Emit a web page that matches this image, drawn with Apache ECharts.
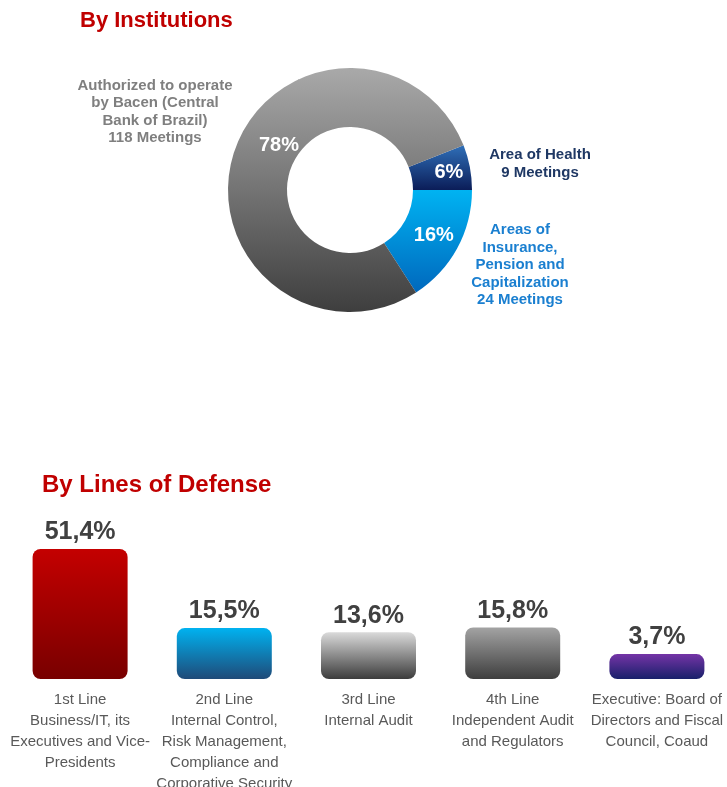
<!DOCTYPE html>
<html>
<head>
<meta charset="utf-8">
<script src="https://cdn.jsdelivr.net/npm/echarts@6/dist/echarts.min.js"></script>
<style>
  html, body { margin: 0; padding: 0; background: #fff; }
  #chartBox { width: 727px; height: 787px; }
</style>
</head>
<body>
<div id="chartBox"></div>
<script>
// donut: by institutions (order chosen so slices start at top-right)
const instNames = ["Area of Health", "Areas of\nInsurance,\nPension and\nCapitalization", "Authorized to operate\nby Bacen (Central\nBank of Brazil)"];
const instMeetings = [9, 24, 118];

// bars: by lines of defense
const lineCategories = [
  "1st Line\nBusiness/IT, its\nExecutives and Vice-\nPresidents",
  "2nd Line\nInternal Control,\nRisk Management,\nCompliance and\nCorporative Security",
  "3rd Line\nInternal Audit",
  "4th Line\nIndependent Audit\nand Regulators",
  "Executive: Board of\nDirectors and Fiscal\nCouncil, Coaud"
];
const lineShares = [51.4, 15.5, 13.6, 15.8, 3.7];

const FONT = "'Liberation Sans', Arial, sans-serif";

function grad(top, bottom) {
  return new echarts.graphic.LinearGradient(0, 0, 0, 1, [
    { offset: 0, color: top },
    { offset: 1, color: bottom },
  ]);
}

const sliceColors = [
  grad("#2f6fb8", "#0b1d58"),
  grad("#00b3f2", "#0068bd"),
  grad("#a9a9a9", "#3e3e3e"),
];
const sliceLabelColors = ["#1f3864", "#1a7fd0", "#7f7f7f"];
// where the category texts sit beside the donut
const outerLabelPos = [[540, 164], [520, 265], [155, 112]];

const barColors = [
  grad("#c40000", "#780000"),
  grad("#00b2f0", "#1f4a78"),
  grad("#dadada", "#3c3c3c"),
  grad("#a3a3a3", "#3e3e3e"),
  grad("#7434a6", "#18206a"),
];

const chart = echarts.init(document.getElementById("chartBox"));

const total = instMeetings.reduce((a, b) => a + b, 0);

const option = {
  backgroundColor: "#fff",
  animation: false,
  title: [
    {
      text: "By Institutions",
      left: 80, top: 10, padding: 0,
      textStyle: { color: "#c00000", fontSize: 22, fontWeight: "bold", fontFamily: FONT },
    },
    {
      text: "By Lines of Defense",
      left: 42, top: 473, padding: 0,
      textStyle: { color: "#c00000", fontSize: 24, fontWeight: "bold", fontFamily: FONT },
    },
  ],
  grid: { left: 8, width: 721, top: 530, height: 149, outerBoundsMode: "none", containLabel: false },
  xAxis: {
    type: "category",
    data: lineCategories,
    axisLine: { show: false },
    axisTick: { show: false },
    axisLabel: {
      interval: 0,
      margin: 10,
      color: "#595959",
      fontSize: 15,
      lineHeight: 21,
      fontFamily: FONT,
      verticalAlign: "top",
    },
  },
  yAxis: {
    type: "value",
    min: -7.6,
    max: 60,
    startValue: -7.6,
    show: false,
    splitLine: { show: false },
  },
  series: [
    {
      type: "pie",
      center: [350, 190],
      radius: [63, 122],
      startAngle: (instMeetings[0] / total) * 360,
      clockwise: true,
      silent: true,
      data: instNames.map((n, i) => ({
        name: n,
        value: instMeetings[i],
        itemStyle: { color: sliceColors[i] },
      })),
      label: {
        position: "inside",
        formatter: (p) => Math.round(p.percent) + "%",
        color: "#fff",
        fontSize: 20,
        fontWeight: "bold",
        fontFamily: FONT,
      },
      labelLayout: (p) => {
        if (p.dataIndex === 2) return { x: 279, y: 145, align: "center", verticalAlign: "middle" };
        if (p.dataIndex === 0) return { dx: 5 };
        return {};
      },
    },
    {
      type: "pie",
      center: [350, 190],
      radius: [63, 122],
      startAngle: (instMeetings[0] / total) * 360,
      silent: true,
      data: instNames.map((n, i) => ({
        name: n,
        value: instMeetings[i],
        itemStyle: { color: "rgba(0,0,0,0)" },
        label: { color: sliceLabelColors[i] },
      })),
      labelLine: { show: false },
      label: {
        position: "outside",
        formatter: (p) => p.name + "\n" + p.value + " Meetings",
        fontSize: 15,
        lineHeight: 17.5,
        fontWeight: "bold",
        fontFamily: FONT,
        align: "center",
      },
      labelLayout: (p) => ({
        x: outerLabelPos[p.dataIndex][0],
        y: outerLabelPos[p.dataIndex][1],
        align: "center",
        verticalAlign: "middle",
      }),
    },
    {
      type: "bar",
      barWidth: 95,
      data: lineShares.map((v, i) => ({
        value: v,
        itemStyle: { color: barColors[i], borderRadius: 8 },
      })),
      label: {
        show: true,
        position: "top",
        distance: 4,
        formatter: (p) => String(p.value).replace(".", ",") + "%",
        color: "#404040",
        fontSize: 25,
        fontWeight: "bold",
        fontFamily: FONT,
      },
    },
  ],
};

chart.setOption(option);
window.addEventListener("resize", chart.resize);
</script>
</body>
</html>
